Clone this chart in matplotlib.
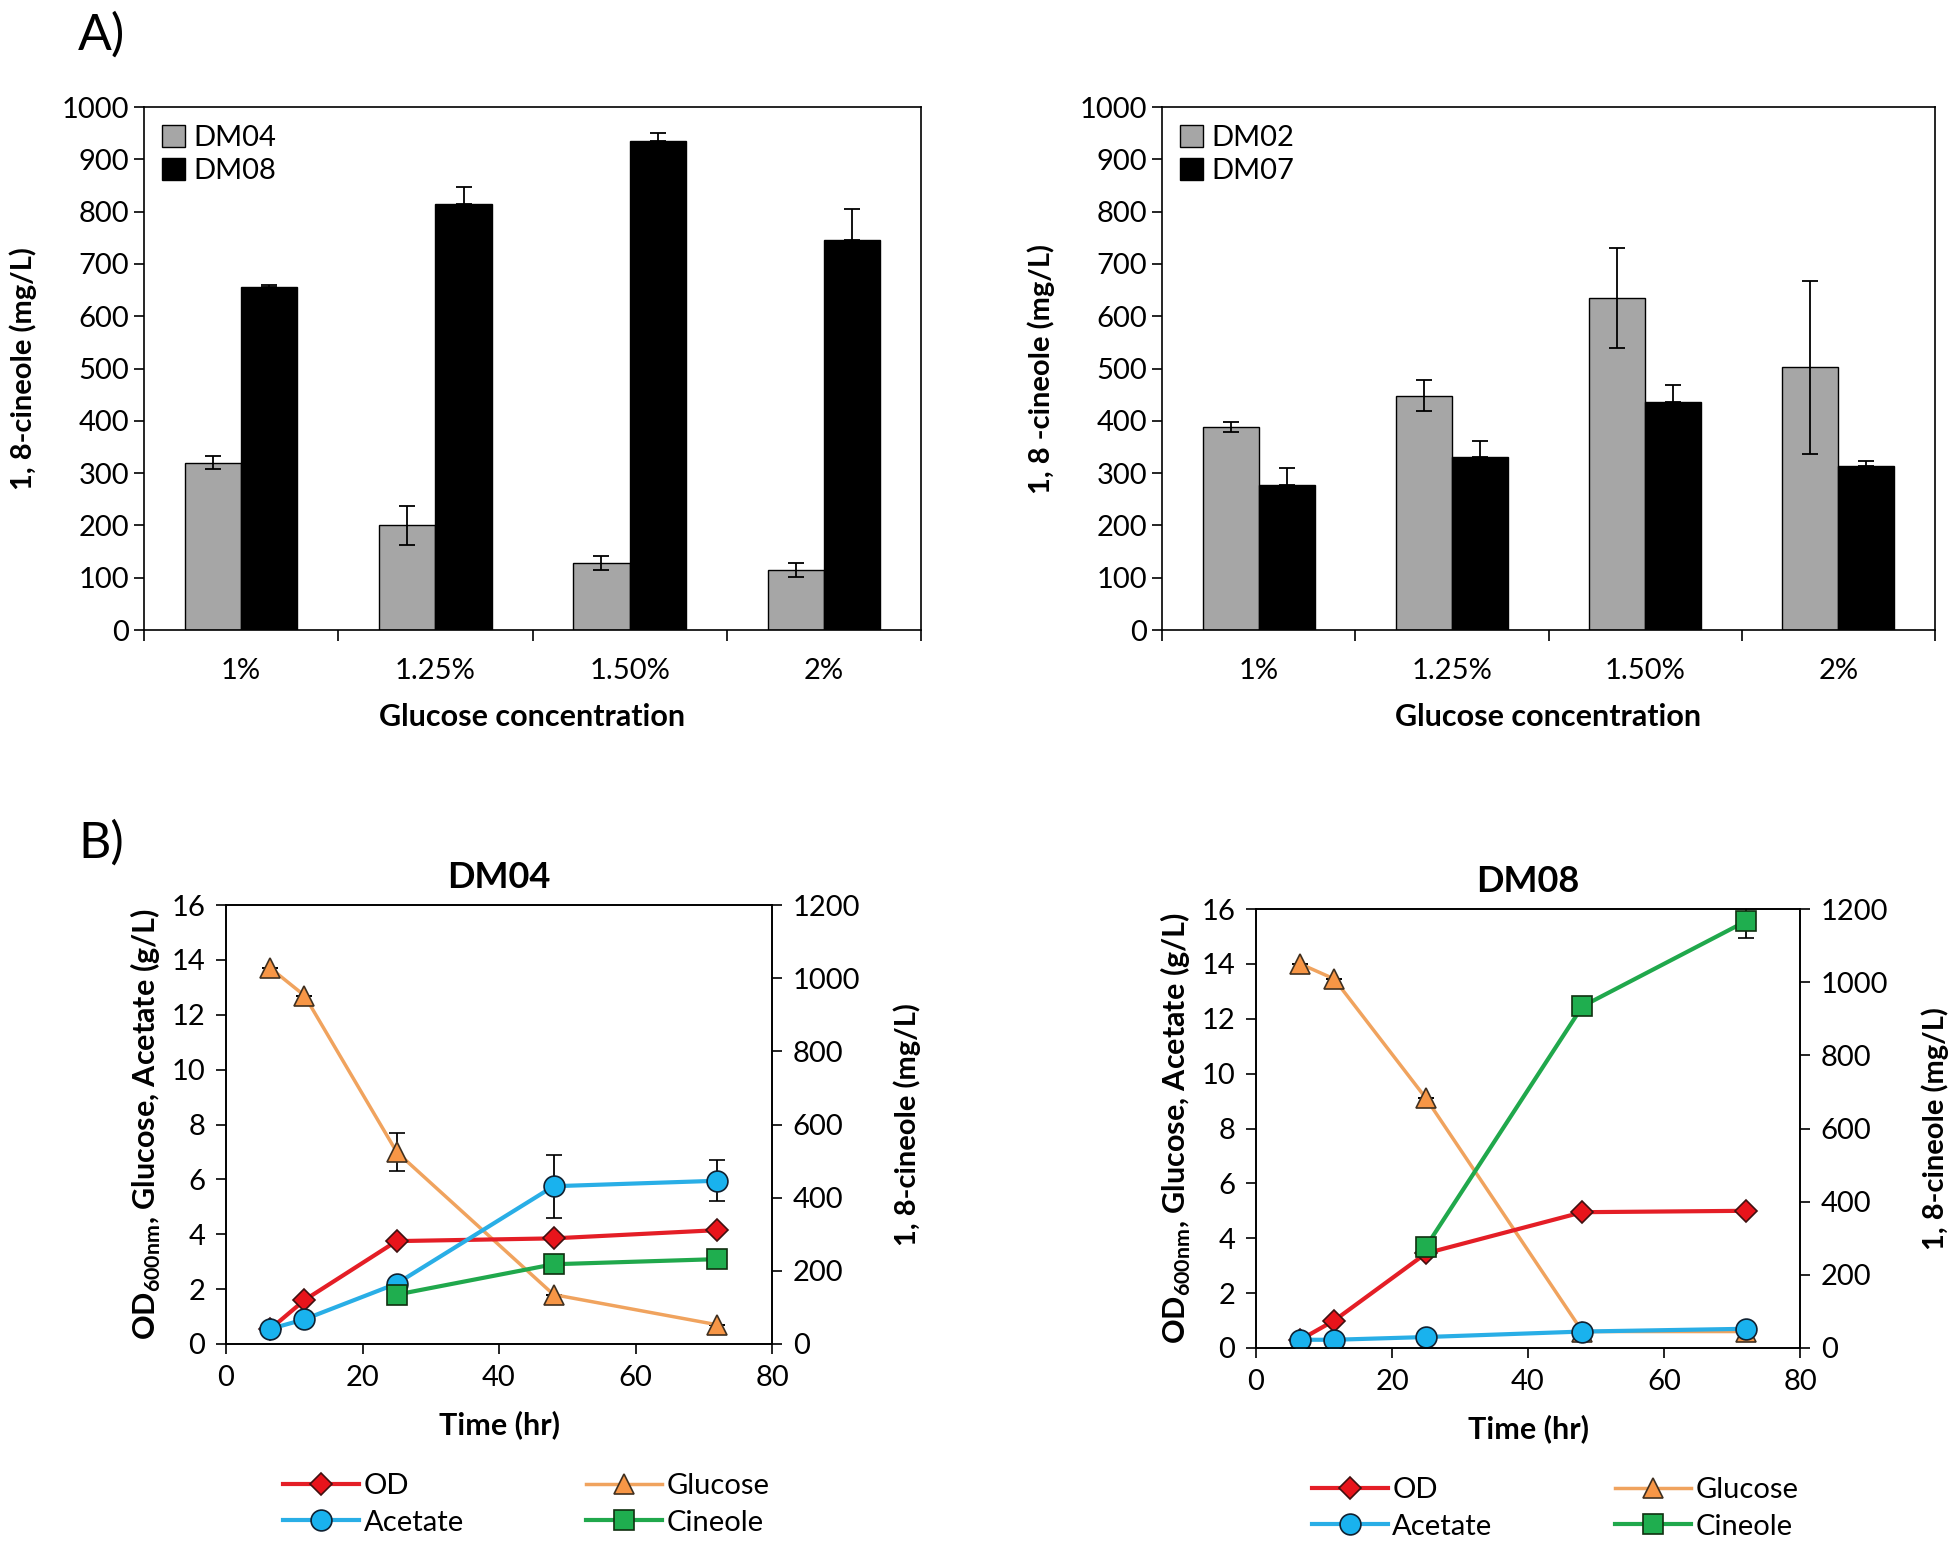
import numpy as np
import matplotlib
matplotlib.use('Agg')
import matplotlib.pyplot as plt
from matplotlib.ticker import FixedLocator

plt.rcParams['font.family'] = ['Lato', 'DejaVu Sans']
plt.rcParams['mathtext.fontset'] = 'custom'
plt.rcParams['mathtext.rm'] = 'Lato'
plt.rcParams['mathtext.bf'] = 'Lato:bold'

# ---- donnees panneau A
conc = ['1%', '1.25%', '1.50%', '2%']
dm04 = [320, 200, 128, 115]
dm04_err = [13, 37, 13, 13]
dm08 = [655, 815, 935, 745]
dm08_err = [5, 32, 15, 60]
dm02 = [388, 448, 635, 502]
dm02_err = [10, 30, 95, 165]
dm07 = [278, 330, 435, 313]
dm07_err = [32, 32, 33, 10]

# ---- donnees panneau B
t = [6.5, 11.5, 25, 48, 72]
t_cin = [25, 48, 72]
# DM04
od_04 = [0.55, 1.6, 3.75, 3.85, 4.15]
glc_04 = [13.7, 12.7, 7.0, 1.8, 0.7]
glc_04_err = [0, 0, 0.7, 0, 0]
ace_04 = [0.55, 0.9, 2.2, 5.75, 5.95]
ace_04_err = [0, 0, 0, 1.15, 0.75]
cin_04 = [135, 218, 232]
cin_04_err = [0, 8, 0]
# DM08
od_08 = [0.3, 1.0, 3.45, 4.95, 5.0]
glc_08 = [14.0, 13.45, 9.1, 0.6, 0.6]
glc_08_err = [0, 0, 0, 0, 0]
ace_08 = [0.3, 0.3, 0.4, 0.6, 0.7]
ace_08_err = [0, 0, 0, 0, 0]
cin_08 = [277, 934, 1166]
cin_08_err = [0, 0, 45]

fs = 21     # ticks / legendes
fl = 21     # titres d'axes
W, H = 1960, 1554
fig = plt.figure(figsize=(W/100, H/100), dpi=100)

def box(x0, y0, x1, y1):
    return [x0/W, 1 - y1/H, (x1-x0)/W, (y1-y0)/H]

def barpanel(ax, v1, e1, v2, e2, lab1, lab2, ylab):
    x = np.arange(len(conc))
    w = 0.29
    ax.bar(x - w/2, v1, w, color='#a6a6a6', edgecolor='black', linewidth=1, label=lab1)
    ax.bar(x + w/2, v2, w, color='black', edgecolor='black', linewidth=1, label=lab2)
    ax.errorbar(x - w/2, v1, yerr=e1, fmt='none', ecolor='black', elinewidth=1.3, capsize=6, capthick=1.3)
    ax.errorbar(x + w/2, v2, yerr=[np.zeros(len(e2)), e2], fmt='none', ecolor='black', elinewidth=1.3, capsize=6, capthick=1.3)
    ax.set_xlim(-0.5, 3.5)
    ax.set_ylim(0, 1000)
    ax.set_yticks(np.arange(0, 1001, 100))
    ax.set_xticks(x)
    ax.set_xticklabels(conc)
    ax.xaxis.set_minor_locator(FixedLocator(np.arange(-0.5, 3.6, 1)))
    ax.tick_params(axis='x', which='major', length=0, pad=20, labelsize=fs)
    ax.tick_params(axis='x', which='minor', length=8, width=1.2, direction='out')
    ax.tick_params(axis='y', length=7, width=1.2, direction='out', labelsize=fs)
    ax.set_xlabel('Glucose concentration', fontsize=fl + 1, fontweight='bold', labelpad=14)
    ax.set_ylabel(ylab, fontsize=fl, fontweight='bold', labelpad=18)
    for s in ax.spines.values():
        s.set_linewidth(1.2)
    ax.legend(loc='upper left', fontsize=fs, frameon=False, handlelength=0.8, handleheight=0.8,
              handletextpad=0.3, borderaxespad=0.2, labelspacing=0.25)

axA1 = fig.add_axes(box(144, 107, 921, 630))
barpanel(axA1, dm04, dm04_err, dm08, dm08_err, 'DM04', 'DM08', '1, 8-cineole (mg/L)')
axA2 = fig.add_axes(box(1162, 107, 1935, 630))
barpanel(axA2, dm02, dm02_err, dm07, dm07_err, 'DM02', 'DM07', '1, 8 -cineole (mg/L)')

c_od, c_odm = '#e41e26', '#e8141b'
c_glc, c_glcm = '#f0a35e', '#f79646'
c_ace, c_acem = '#29aee6', '#19b2ee'
c_cin, c_cinm = '#20a84c', '#1fae4f'

def timepanel(ax, title, od, glc, glc_e, ace, ace_e, cin, cin_e):
    ms = 15
    ax2 = ax.twinx()
    h1, = ax.plot(t, od, '-D', color=c_od, mfc=c_odm, mec='#401010', mew=1.2, ms=11, lw=3, label='OD', zorder=4)
    h2 = ax.errorbar(t, glc, yerr=glc_e, fmt='-^', color=c_glc, mfc=c_glcm, mec='#403020', mew=1.2, ms=ms, lw=2.5,
                     ecolor='black', elinewidth=1.3, capsize=6, capthick=1.3, label='Glucose', zorder=3)
    h3 = ax.errorbar(t, ace, yerr=ace_e, fmt='-o', color=c_ace, mfc=c_acem, mec='#102030', mew=1.2, ms=ms, lw=3,
                     ecolor='black', elinewidth=1.3, capsize=6, capthick=1.3, label='Acetate', zorder=5)
    h4 = ax2.errorbar(t_cin, cin, yerr=cin_e, fmt='-s', color=c_cin, mfc=c_cinm, mec='#103010', mew=1.2, ms=ms, lw=3,
                      ecolor='black', elinewidth=1.3, capsize=6, capthick=1.3, label='Cineole')
    ax.set_xlim(0, 80)
    ax.set_ylim(0, 16)
    ax2.set_ylim(0, 1200)
    ax.set_xticks(np.arange(0, 81, 20))
    ax.set_yticks(np.arange(0, 17, 2))
    ax2.set_yticks(np.arange(0, 1201, 200))
    ax.tick_params(length=7, width=1.2, direction='out', labelsize=fs, pad=8)
    ax2.tick_params(length=7, width=1.2, direction='out', labelsize=fs, pad=8)
    for a in (ax, ax2):
        for s in a.spines.values():
            s.set_linewidth(1.2)
    ax.set_xlabel('Time (hr)', fontsize=fl + 1, fontweight='bold', labelpad=14)
    ax.set_ylabel(r'OD$_{\mathbf{600nm}}$, Glucose, Acetate (g/L)', fontsize=fl + 1, fontweight='bold', labelpad=6)
    ax2.set_ylabel('1, 8-cineole (mg/L)', fontsize=fl, fontweight='bold', labelpad=24)
    ax.set_title(title, fontsize=26, fontweight='bold', pad=12)
    ax.legend([h1, h3.lines[0], h2.lines[0], h4.lines[0]], ['OD', 'Acetate', 'Glucose', 'Cineole'], ncol=2,
              frameon=False, fontsize=fs, loc='upper center', bbox_to_anchor=(0.55, -0.235), columnspacing=4.2,
              handlelength=2.6, handletextpad=0.15, labelspacing=0.35)

axB1 = fig.add_axes(box(226, 905, 772, 1344))
timepanel(axB1, 'DM04', od_04, glc_04, glc_04_err, ace_04, ace_04_err, cin_04, cin_04_err)
axB2 = fig.add_axes(box(1256, 909, 1800, 1348))
timepanel(axB2, 'DM08', od_08, glc_08, glc_08_err, ace_08, ace_08_err, cin_08, cin_08_err)

fig.text(78/W, 1 - 35/H, 'A)', fontsize=36, va='center', ha='left')
fig.text(78/W, 1 - 843/H, 'B)', fontsize=36, va='center', ha='left')

fig.savefig('out.png', dpi=100)
